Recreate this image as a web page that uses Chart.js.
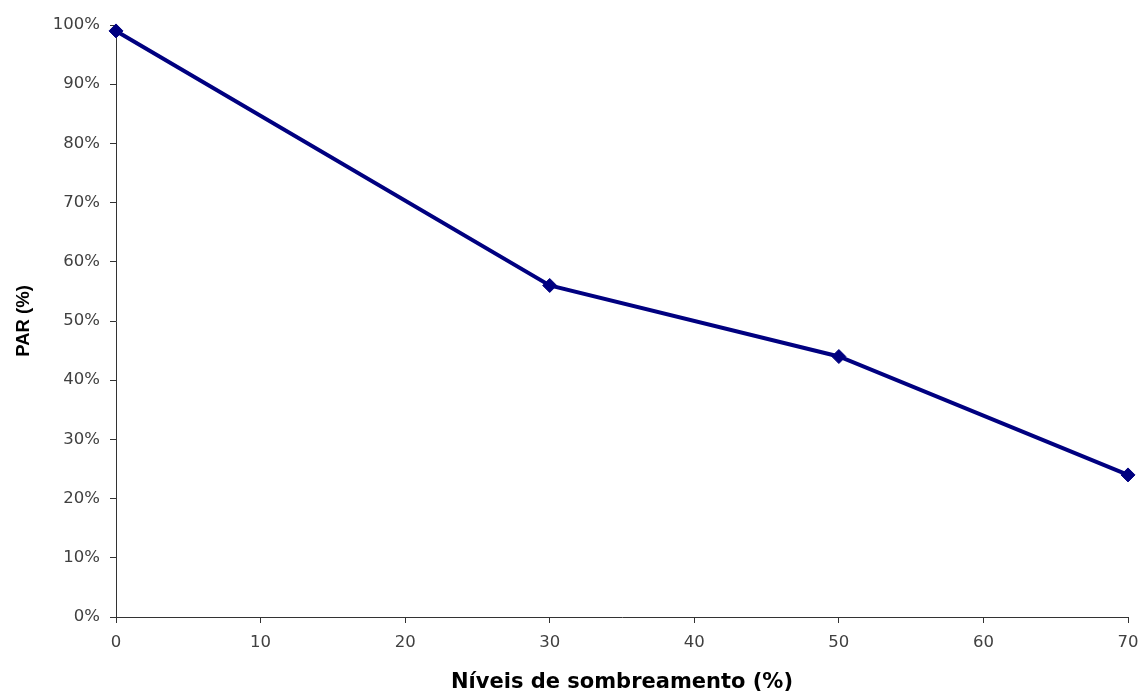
<!DOCTYPE html>
<html>
<head>
<meta charset="utf-8">
<title>PAR (%) x Níveis de sombreamento</title>
<script src="https://cdn.jsdelivr.net/npm/chart.js@4.4.1/dist/chart.umd.min.js"></script>
<style>
  body { margin: 0; background: #fff; }
  #wrap { width: 1140px; height: 695px; }
</style>
</head>
<body>
<div id="wrap"><canvas id="par-chart" width="1140" height="695"></canvas></div>
<script>
// shading levels (%) and the PAR reaching the plants at each level
const shadeLevels = [0, 30, 50, 70];
const parValues = [99, 56, 44, 24];
const xTicks = [0, 10, 20, 30, 40, 50, 60, 70];
const yTicks = [0, 10, 20, 30, 40, 50, 60, 70, 80, 90, 100];

const axisColor = '#333333';
const labelColor = '#404040';
const tickFont = { family: 'DejaVu Sans', size: 16.5 };

const points = shadeLevels.map((x, i) => ({ x: x, y: parValues[i] }));

new Chart(document.getElementById('par-chart'), {
    type: 'line',
    data: {
        datasets: [{
            label: 'PAR',
            data: points,
            borderColor: '#000080',
            backgroundColor: '#000080',
            borderWidth: 4,
            pointStyle: 'rectRot',
            pointRadius: 7,
            pointBorderWidth: 1,
            tension: 0,
            clip: false
        }]
    },
    options: {
        responsive: false,
        animation: false,
        layout: { padding: { top: 25, right: 12, left: 0, bottom: 0 } },
        plugins: {
            legend: { display: false },
            tooltip: { enabled: false }
        },
        scales: {
            x: {
                type: 'linear',
                min: 0,
                max: 70,
                afterFit: s => {
                    s.height = 78;
                    // keep the plot edge fixed; the end labels fit in the margins
                    s.paddingLeft = 0;
                    s.paddingRight = 0;
                },
                afterBuildTicks: s => { s.ticks = xTicks.map(v => ({ value: v })); },
                grid: { drawOnChartArea: false, tickLength: 6, color: axisColor },
                border: { color: axisColor, width: 1 },
                ticks: { color: labelColor, font: tickFont, padding: 10, maxRotation: 0 },
                title: {
                    display: true,
                    text: 'Níveis de sombreamento (%)',
                    color: '#000',
                    font: { family: 'DejaVu Sans', size: 21, weight: 'bold' },
                    padding: { top: 1, bottom: 0 }
                }
            },
            y: {
                min: 0,
                max: 100,
                afterFit: s => { s.width = 116; },
                afterBuildTicks: s => { s.ticks = yTicks.map(v => ({ value: v })); },
                grid: { drawOnChartArea: false, tickLength: 6, color: axisColor },
                border: { color: axisColor, width: 1 },
                ticks: {
                    color: labelColor,
                    font: tickFont,
                    padding: 10,
                    callback: v => v + '%'
                },
                title: {
                    display: true,
                    text: 'PAR (%)',
                    color: '#000',
                    font: { family: 'Liberation Sans', size: 18.5, weight: 'bold' },
                    padding: { top: 13, bottom: 0 }
                }
            }
        }
    }
});
</script>
</body>
</html>
